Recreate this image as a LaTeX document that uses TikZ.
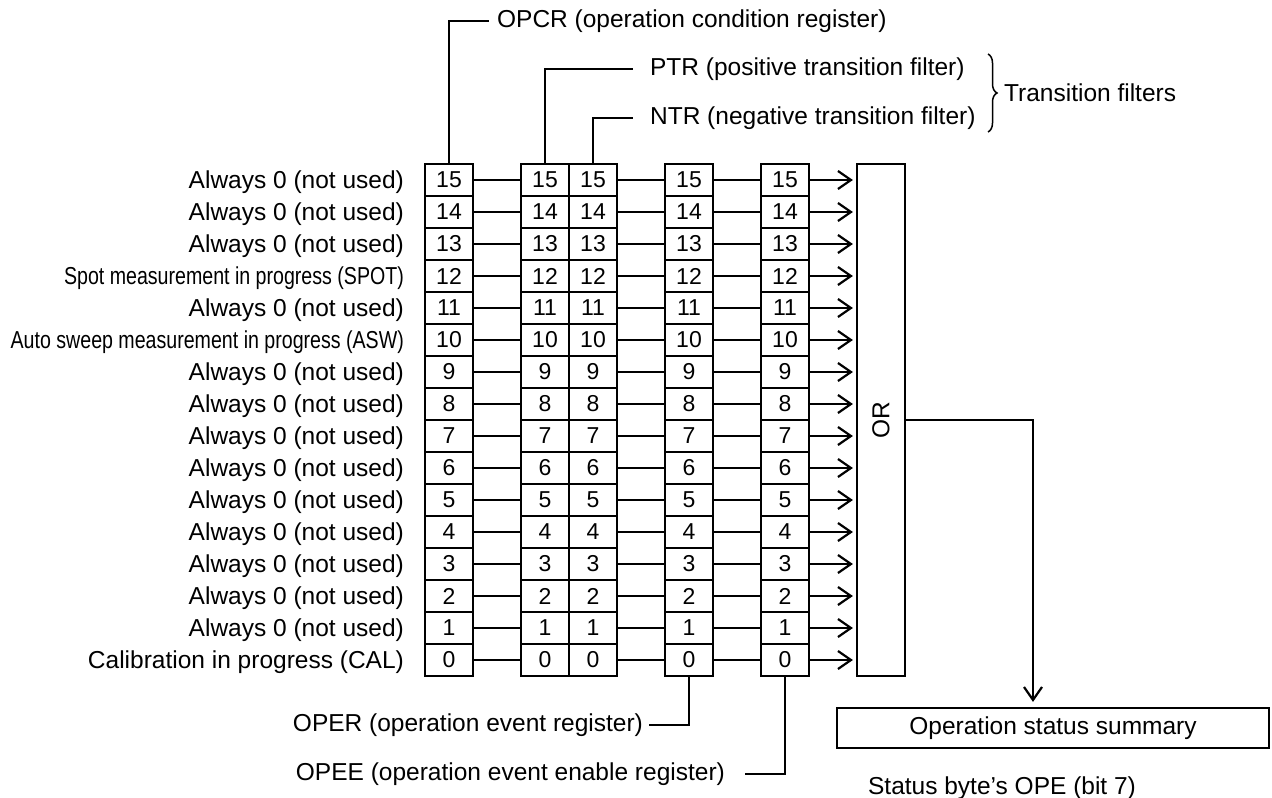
\documentclass[tikz,border=0pt]{standalone}
\usepackage{fontspec}
\setmainfont{Liberation Sans}
\newfontfamily\narrowfont[FakeStretch=0.8]{Liberation Sans}
\usetikzlibrary{arrows.meta,calc,decorations.pathreplacing}

\begin{document}
\begin{tikzpicture}[x=1pt,y=-1pt,line width=2.2pt,
  bitbox/.style={draw,minimum width=48pt,minimum height=32pt,inner sep=0pt,
    font=\fontsize{23}{25}\selectfont},
  txt/.style={inner sep=0pt,font=\fontsize{24.5}{27}\selectfont},
  arr/.style={-{Straight Barb[length=13pt,width=18pt]}}]
\useasboundingbox (0,0) rectangle (1272,798);

\foreach \i in {0,...,15}{
  \pgfmathsetmacro{\y}{180+32*(15-\i)}
  \node[bitbox] (cr-\i) at (449,\y) {\i};
  \node[bitbox] (ptr-\i) at (545,\y) {\i};
  \node[bitbox] (ntr-\i) at (593,\y) {\i};
  \node[bitbox] (er-\i) at (689,\y) {\i};
  \node[bitbox] (ee-\i) at (785,\y) {\i};
}

\foreach \i/\t in {15/Always 0 (not used),14/Always 0 (not used),13/Always 0 (not used),
  12/{\narrowfont Spot measurement in progress (SPOT)},11/Always 0 (not used),
  10/{\narrowfont Auto sweep measurement in progress (ASW)},9/Always 0 (not used),
  8/Always 0 (not used),7/Always 0 (not used),6/Always 0 (not used),
  5/Always 0 (not used),4/Always 0 (not used),3/Always 0 (not used),
  2/Always 0 (not used),1/Always 0 (not used),0/Calibration in progress (CAL)}{
  \pgfmathsetmacro{\y}{188.5+32*(15-\i)}
  \node[txt,anchor=base east] (lbl-\i) at (405,\y) {\t};
}

\node[draw,minimum width=48pt,minimum height=512pt] (or) at (881,420) {};
\node[txt,rotate=90] (orlbl) at (or) {OR};

\foreach \i in {0,...,15}{
  \draw (cr-\i) -- (ptr-\i);
  \draw (ntr-\i) -- (er-\i);
  \draw (er-\i) -- (ee-\i);
  \draw[arr,shorten >=3pt] (ee-\i) -- (ee-\i -| or.west);
}

\node[txt,anchor=base west] (opcr) at (496,27.5) {OPCR (operation condition register)};
\node[txt,anchor=base west] (ptr) at (649,75.5) {PTR (positive transition filter)};
\node[txt,anchor=base west] (ntr) at (649,124.5) {NTR (negative transition filter)};
\draw (cr-15.north) |- ([xshift=-7pt]opcr.west);
\draw (ptr-15.north) |- ([xshift=-16pt]ptr.west);
\draw (ntr-15.north) |- ([xshift=-16pt]ntr.west);
\draw[line width=1.5pt,decorate,decoration={brace,amplitude=9pt}] (988,54) -- (988,132);
\node[txt,anchor=base west] (trans) at (1003,101.5) {Transition filters};

\node[txt,anchor=base east] (operlbl) at (644,731.5) {OPER (operation event register)};
\node[txt,anchor=base east] (opeelbl) at (726,780.5) {OPEE (operation event enable register)};
\draw (er-0.south) |- ([xshift=5pt]operlbl.east);
\draw (ee-0.south) |- ([xshift=19pt]opeelbl.east);

\node[txt,draw,minimum width=432pt,minimum height=40pt] (sum) at (1053,728) {Operation status summary};
\draw[arr,shorten >=5pt] (or.east) -| ([xshift=-20pt]sum.north);
\node[txt,anchor=base] (ope) at (1002,794) {Status byte’s OPE (bit 7)};

\end{tikzpicture}
\end{document}
